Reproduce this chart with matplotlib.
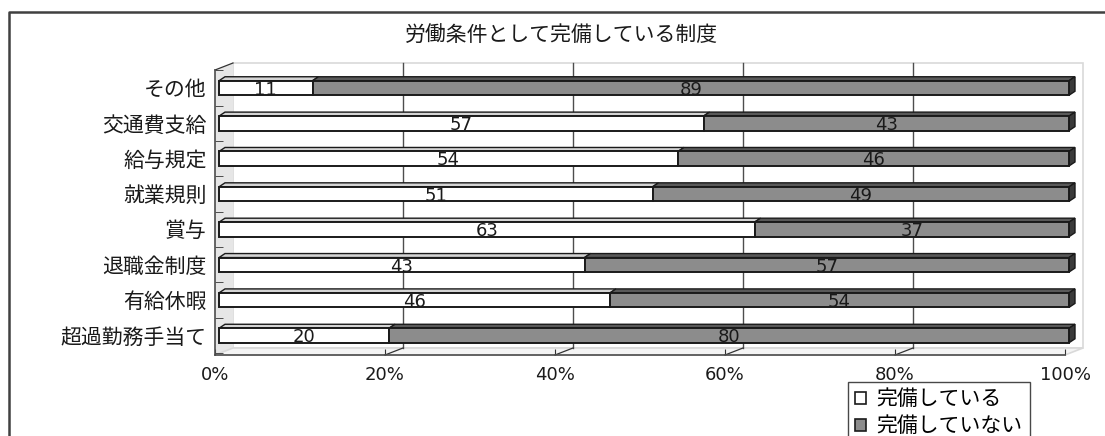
import numpy as np
import matplotlib
matplotlib.use('Agg')
import matplotlib.pyplot as plt
import matplotlib.transforms as mtransforms
from matplotlib.patches import Polygon, Rectangle
from matplotlib.lines import Line2D

# DejaVu for the digits, Noto for the Japanese
plt.rcParams['font.family'] = ['DejaVu Sans', 'Noto Sans CJK JP']

title = '労働条件として完備している制度'
categories = ['その他', '交通費支給', '給与規定', '就業規則', '賞与', '退職金制度', '有給休暇', '超過勤務手当て']
kanbi = [11, 57, 54, 51, 63, 43, 46, 20]
mikanbi = [89, 43, 46, 49, 37, 57, 54, 80]
series_names = ['完備している', '完備していない']
xticks = [0, 20, 40, 60, 80, 100]

W, H, DPI = 1105, 436, 100
fig = plt.figure(figsize=(W / DPI, H / DPI), dpi=DPI)

# plot box in pixels: front axis plane
px_left, px_right, px_top, px_bottom = 215, 1065, 70, 355
ax = fig.add_axes([px_left / W, 1 - px_bottom / H, (px_right - px_left) / W, (px_bottom - px_top) / H])
ax.set_xlim(0, 100)
y_top, y_bot = -0.509, 7.551
ax.set_ylim(y_bot, y_top)
ax.patch.set_alpha(0)

# data units per pixel
p0 = ax.transData.transform((0, 0))
p1 = ax.transData.transform((1, 1))
sx, sy = p1[0] - p0[0], p1[1] - p0[1]


def shifted(dx, dy):
    return ax.transData + mtransforms.ScaledTranslation(dx / DPI, dy / DPI, fig.dpi_scale_trans)


# walls / floor depth
wdx, wdy = 18, 7
wx, wy = wdx / sx, wdy / sy
back_tr = shifted(wdx, wdy)

ax.add_patch(Rectangle((0, y_top), 100, y_bot - y_top, transform=back_tr, facecolor='white',
                       edgecolor='#d9d9d9', lw=1.2, zorder=0, clip_on=False))
ax.add_patch(Polygon([(0, y_bot), (0, y_top), (wx, y_top + wy), (wx, y_bot + wy)], closed=True,
                     facecolor='#e6e6e6', edgecolor='none', zorder=0.5, clip_on=False))
ax.add_patch(Polygon([(0, y_bot), (100, y_bot), (100 + wx, y_bot + wy), (wx, y_bot + wy)], closed=True,
                     facecolor='#f4f4f4', edgecolor='#d9d9d9', lw=1.2, zorder=0.5, clip_on=False))
for xv in xticks[1:-1]:
    ax.plot([xv, xv], [y_bot, y_top], transform=back_tr, color='#4d4d4d', lw=1, zorder=1, clip_on=False)
    ax.plot([xv, xv + wx], [y_bot, y_bot + wy], color='#333333', lw=0.9, zorder=1, clip_on=False)
ax.plot([0, wx], [y_top, y_top + wy], color='#333333', lw=0.9, zorder=1, clip_on=False)

# bars with 3D top / side faces
bar_tr = shifted(4, 0)
bh = 0.41
bdx, bdy = 6 / sx, 4 / sy
y = np.arange(len(categories))
left_vals = np.zeros(len(categories))
for vals, face, top_col in [(kanbi, 'white', '#d4d4d4'), (mikanbi, '#8c8c8c', '#595959')]:
    ax.barh(y, vals, left=left_vals, height=bh, color=face, edgecolor='#1a1a1a', lw=1.4,
            transform=bar_tr, zorder=3, clip_on=False)
    for i, (l, v) in enumerate(zip(left_vals, vals)):
        ft = i - bh / 2
        ax.add_patch(Polygon([(l, ft), (l + v, ft), (l + v + bdx, ft + bdy), (l + bdx, ft + bdy)], closed=True,
                             facecolor=top_col, edgecolor='#1a1a1a', lw=1.0, transform=bar_tr,
                             zorder=2.9, clip_on=False))
        ax.text(l + v / 2, i + 0.05, str(v), ha='center', va='center', fontsize=13, color='#1a1a1a',
                transform=bar_tr, zorder=4)
    left_vals = left_vals + np.array(vals)

for i, tot in enumerate(left_vals):
    ft, fb = i - bh / 2, i + bh / 2
    ax.add_patch(Polygon([(tot, ft), (tot + bdx, ft + bdy), (tot + bdx, fb + bdy), (tot, fb)], closed=True,
                         facecolor='#3a3a3a', edgecolor='#1a1a1a', lw=1.0, transform=bar_tr,
                         zorder=2.9, clip_on=False))

# axes
for s in ['top', 'right']:
    ax.spines[s].set_visible(False)
for s in ['left', 'bottom']:
    ax.spines[s].set_color('#4d4d4d')
    ax.spines[s].set_linewidth(1.2)
ax.set_xticks(xticks)
ax.set_xticklabels([f'{v}%' for v in xticks], fontsize=13, color='#1a1a1a')
ax.tick_params(axis='x', direction='in', length=4, color='#333333', pad=8)
ax.set_yticks(y)
ax.set_yticklabels(categories, fontsize=15, color='#1a1a1a')
ax.tick_params(axis='y', which='major', length=0, pad=6)
ax.set_yticks(np.arange(-0.5, len(categories), 1), minor=True)
ax.tick_params(axis='y', which='minor', direction='in', length=6, color='#333333')

fig.text(561 / W, 1 - 36 / H, title, ha='center', va='center', fontsize=15, color='#1a1a1a')

handles = [Rectangle((0, 0), 1, 1, facecolor='white', edgecolor='#1a1a1a', lw=1.2),
           Rectangle((0, 0), 1, 1, facecolor='#8c8c8c', edgecolor='#1a1a1a', lw=1.2)]
leg = fig.legend(handles, series_names, loc='upper left', bbox_to_anchor=(848 / W, 1 - 382 / H),
                 fontsize=15, frameon=True, fancybox=False, handlelength=0.5, handleheight=0.5,
                 handletextpad=0.5, labelspacing=0.32, borderpad=0.35, borderaxespad=0)
leg.get_frame().set_edgecolor('#1a1a1a')
leg.get_frame().set_linewidth(1.0)

# outer chart frame
fig.add_artist(Line2D([9 / W, 9 / W, 1], [0, 1 - 12 / H, 1 - 12 / H], transform=fig.transFigure,
                      color='#404040', lw=1.8))

fig.savefig('out.png', dpi=DPI)
